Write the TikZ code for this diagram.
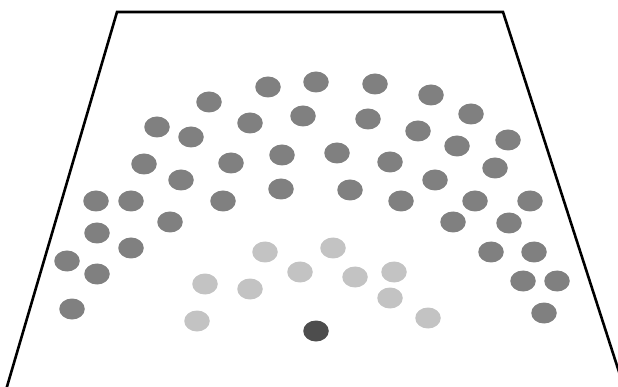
\documentclass[tikz,border=0pt]{standalone}
\usetikzlibrary{shapes.geometric}
\definecolor{seatgray}{RGB}{128,128,128}
\definecolor{seatlight}{RGB}{195,195,195}
\definecolor{seatdark}{RGB}{77,77,77}
\tikzset{
  seat/.style={ellipse, fill=seatgray, draw=none, minimum width=25.5pt, minimum height=21pt, inner sep=0pt},
  seatl/.style={seat, fill=seatlight},
  seatd/.style={seat, fill=seatdark},
  wall/.style={line width=2.6pt, line join=miter}
}
\begin{document}
\begin{tikzpicture}[x=1pt,y=-1pt]
\useasboundingbox (0,0) rectangle (618,387);
\begin{scope}
\clip (0,0) rectangle (618,387);
\coordinate (bl) at (6,390);
\coordinate (tl) at (117,12);
\coordinate (tr) at (503,12);
\coordinate (br) at (620,375);
\draw[wall] (bl) -- (tl) -- (tr) -- (br);
\end{scope}
\foreach \x/\y [count=\i] in {209/102,268/87,316/82,375/84,431/95,471/114,508/140,
157/127,191/137,250/123,303/116,368/119,418/131,457/146,495/168,
144/164,181/180,231/163,282/155,337/153,390/162,435/180,
281/189,350/190,401/201,475/201,530/201,
96/201,131/201,223/201,170/222,
97/233,131/248,67/261,97/274,72/309,
453/222,509/223,491/252,534/252,523/281,557/281,544/313}
  \node[seat] (s\i) at (\x,\y) {};
\foreach \x/\y [count=\i] in {265/252,333/248,300/272,355/277,394/272,205/284,250/289,390/298,197/321,428/318}
  \node[seatl] (l\i) at (\x,\y) {};
\node[seatd] (chair) at (316,331) {};
\end{tikzpicture}
\end{document}
